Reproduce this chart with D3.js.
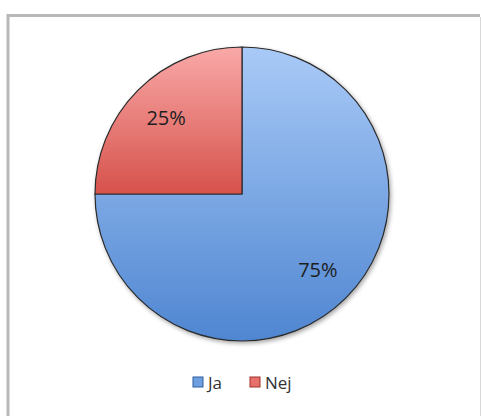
<!DOCTYPE html>
<html>
<head>
<meta charset="utf-8">
<script src="https://cdn.jsdelivr.net/npm/d3@7"></script>
<style>
  html, body { margin: 0; padding: 0; background: #fff; }
  svg { display: block; }
  text { font-family: "Open Sans", "Liberation Sans", sans-serif; }
</style>
</head>
<body>
<svg id="chart" width="481" height="416"></svg>
<script>
// Answers to the question, share of respondents
const categories = ["Ja", "Nej"];
const shares = [75, 25];
const valueLabels = ["75%", "25%"];

const W = 481, H = 416;
const svg = d3.select("#chart");
const defs = svg.append("defs");

// Slice gradients (light at the top of each slice, deeper towards its bottom)
const gradients = [
  { id: "gradJa", top: "#a9caf7", bottom: "#4f86d1" },
  { id: "gradNej", top: "#f9a9a8", bottom: "#d6524b" }
];
const cx = 242, cy = 194, r = 147;
gradients.forEach(g => {
  const lg = defs.append("linearGradient")
    .attr("id", g.id)
    .attr("x1", 0).attr("y1", 0)
    .attr("x2", 0).attr("y2", 1);
  lg.append("stop").attr("offset", "0%").attr("stop-color", g.top);
  lg.append("stop").attr("offset", "100%").attr("stop-color", g.bottom);
});

// Soft shadow under the pie
const shadow = defs.append("filter").attr("id", "pieShadow")
  .attr("x", "-10%").attr("y", "-10%").attr("width", "130%").attr("height", "130%");
shadow.append("feDropShadow")
  .attr("dx", 1.5).attr("dy", 2).attr("stdDeviation", 2)
  .attr("flood-color", "#000").attr("flood-opacity", 0.35);

// Chart frame
svg.append("path")
  .attr("d", "M8,420 V15.5 H480")
  .attr("fill", "none")
  .attr("stroke", "#b8b8b8")
  .attr("stroke-width", 3);
svg.append("line")
  .attr("x1", 480.5).attr("y1", 17).attr("x2", 480.5).attr("y2", 420)
  .attr("stroke", "#d8d8d8")
  .attr("stroke-width", 1);

const pie = d3.pie().sort(null).value(d => d);
const arcs = pie(shares);
const arc = d3.arc().innerRadius(0).outerRadius(r);
const labelArc = d3.arc().innerRadius(r * 0.73).outerRadius(r * 0.73);

const g = svg.append("g").attr("transform", `translate(${cx},${cy})`);

g.append("g").attr("filter", "url(#pieShadow)")
  .selectAll("path")
  .data(arcs)
  .join("path")
  .attr("d", arc)
  .attr("fill", (d, i) => `url(#${gradients[i].id})`)
  .attr("stroke", "#2a2a2a")
  .attr("stroke-width", 1.2)
  .attr("stroke-linejoin", "round");

g.selectAll("text.value")
  .data(arcs)
  .join("text")
  .attr("class", "value")
  .attr("transform", d => `translate(${labelArc.centroid(d)})`)
  .attr("text-anchor", "middle")
  .attr("dy", "0.35em")
  .attr("font-size", 20)
  .attr("fill", "#1e1e1e")
  .text((d, i) => valueLabels[i]);

// Legend
const legendColors = ["#6f9fe0", "#e8706a"];
const legendBorders = ["#2f5f9e", "#a0302a"];
const legendX = [193, 250];
const legend = svg.append("g");
categories.forEach((c, i) => {
  legend.append("rect")
    .attr("x", legendX[i]).attr("y", 377)
    .attr("width", 10).attr("height", 10)
    .attr("fill", legendColors[i])
    .attr("stroke", legendBorders[i])
    .attr("stroke-width", 1);
  legend.append("text")
    .attr("x", legendX[i] + 15).attr("y", 389)
    .attr("font-size", 17)
    .attr("fill", "#333")
    .text(c);
});
</script>
</body>
</html>
